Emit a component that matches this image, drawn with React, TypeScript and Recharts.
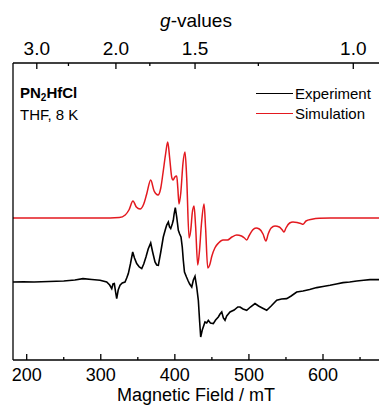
import { Line, LineChart, XAxis, YAxis } from "recharts";

const FONT = "'Liberation Sans', Arial, sans-serif";
const RED = "#e3191f";

// field window of the plot (mT)
const FIELD_MIN = 181.5;
const FIELD_MAX = 675.6;

// experiment, intensity relative to its own baseline
const expField = [
  181.5, 195, 210, 230, 250, 265, 276, 288, 299, 308, 312, 314.8, 316.5, 318.3, 320, 321.5, 323.5, 326, 329, 332.7,
  335, 337.2, 340, 343.1, 345.5, 348.5, 352, 355.3, 358, 361, 364, 367.4, 370, 373.2, 375.5, 377.7, 381, 384.4, 387,
  389, 391.2, 392.8, 394.4, 396.5, 397.9, 399, 400.6, 402.5, 404.7, 406.5, 408.3, 410, 411.4, 413, 415.7, 418, 420,
  422.8, 425, 427.2, 429.5, 431.7, 433.5, 434.9, 437, 440.7, 443, 445.2, 448, 451.9, 455, 458.7, 461, 463.3, 465.5,
  467.7, 470, 474.5, 480, 485, 488, 492, 497, 502, 508.2, 513, 518, 524, 530, 537.5, 544, 551, 557, 564.5, 573, 582,
  591.5, 600, 609.5, 618, 627, 636, 645.5, 655, 663.5, 675.6,
];
const expSignal = [
  0, 0.3, 0, 0.5, 1, 2, 3.4, 2.5, 1.7, 0, -3, -6.6, -2, -1.6, -10, -16.6, -8, -3.3, -1, 0,
  4, 8.4, 18, 30, 24, 18.4, 15, 13.4, 18, 25, 33, 39, 30, 20, 17, 16.7, 30, 45, 52,
  57, 60, 55, 53.4, 58, 61.7, 68, 74.4, 65, 51.7, 48, 45, 35, 21.7, 10, 5, 1, -2,
  -5, 2, 5.7, -5, -18.3, -40, -55, -48, -40, -41, -38.3, -41, -41.6, -38, -35, -32, -30, -36,
  -38.3, -34, -30, -28, -25, -25, -27, -28.3, -25, -21.6, -24, -26, -28.3, -24, -18.3, -17, -16.6, -14, -10, -9, -7.5,
  -5.6, -4.5, -3.3, -2, -0.6, 0, 1, 1.8, 2.4, 2.4,
];

// simulation, intensity relative to its own baseline
const simField = [
  181.5, 300, 325, 333, 338, 343.5, 348, 353, 358, 362, 367.4, 372, 377.2, 381, 384, 387.5, 390.4, 393, 396, 397.6,
  400, 402.5, 404, 405.6, 408, 411, 413.7, 416, 419.2, 421.5, 423.5, 425.9, 428, 430.9, 433, 436, 439.4, 441.5, 444.4,
  447, 450, 454, 459, 465, 471, 477, 483.5, 490, 494, 497, 500, 505, 509.6, 514, 519, 523, 526, 530, 535.2, 541,
  545, 547.4, 550, 555, 559.5, 565, 570, 573, 577, 585, 595, 610, 675.6,
];
const simSignal = [
  0, 0, 0.5, 3, 8, 17, 11, 9, 14, 24, 38, 27, 23, 30, 45, 64, 76, 60, 40, 38,
  41, 42, 30, 14, 25, 55, 66, 40, -20, -12, 5, 12, -8, -47, -35, -5, 14, -10, -50,
  -47, -38, -30, -25, -22, -22, -19, -17, -18, -20, -22, -18, -12, -10, -11, -16, -23, -16, -10, -8, -9,
  -12, -14, -10, -5, -4, -4.5, -5.5, -6.3, -3, -1.3, -0.3, 0, 0,
];

// vertical stacking of the two traces
const EXP_OFFSET = 78;
const SIM_OFFSET = 142;
const Y_MAX = 297;

const fieldTicks = [200, 250, 300, 350, 400, 450, 500, 550, 600, 650];
const fieldLabelled = [200, 300, 400, 500, 600];
const gTicks = [3.0, 2.5, 2.0, 1.75, 1.5, 1.25, 1.0];
const gLabelled = [3.0, 2.0, 1.5, 1.0];
const MW_FREQ = 8.97; // GHz, X-band

const gToField = (g: number) => (71.4477 * MW_FREQ) / g;
const fieldToG = (b: number) => (71.4477 * MW_FREQ) / b;

const expData = expField.map((f, i) => ({ field: f, intensity: expSignal[i] + EXP_OFFSET }));
const simData = simField.map((f, i) => ({ field: f, intensity: simSignal[i] + SIM_OFFSET }));

const legendItems = [
  { name: "Experiment", color: "#000" },
  { name: "Simulation", color: RED },
];

function BottomTick({ x, y, payload }: any) {
  const major = fieldLabelled.includes(payload.value);
  return (
    <g>
      <line x1={x} x2={x} y1={y} y2={y - (major ? 6 : 3)} stroke="#000" strokeWidth={1.3} />
      {major && (
        <text x={x} y={y + 20.5} textAnchor="middle" fontSize={18} fontFamily={FONT} fill="#000">
          {payload.value}
        </text>
      )}
    </g>
  );
}

function TopTick({ x, y, payload }: any) {
  const g = fieldToG(payload.value);
  const major = gLabelled.some((v) => Math.abs(v - g) < 0.01);
  return (
    <g>
      <line x1={x} x2={x} y1={y} y2={y + (major ? 6 : 3)} stroke="#000" strokeWidth={1.3} />
      {major && (
        <text x={x} y={y - 8} textAnchor="middle" fontSize={19} fontFamily={FONT} fill="#000">
          {g.toFixed(1)}
        </text>
      )}
    </g>
  );
}

export default function App() {
  return (
    <div style={{ position: "absolute", left: 0, top: 0, width: 379, height: 405, background: "#fff" }}>
      <LineChart width={379} height={405} margin={{ top: 0, right: 0, bottom: 0, left: 12 }}>
        <XAxis
          xAxisId="bottom"
          dataKey="field"
          type="number"
          domain={[FIELD_MIN, FIELD_MAX]}
          allowDataOverflow
          ticks={fieldTicks}
          interval={0}
          height={45}
          tickSize={0}
          tickMargin={0}
          tickLine={false}
          tick={(p: any) => <BottomTick {...p} />}
          axisLine={{ stroke: "#000", strokeWidth: 1.3 }}
          label={{
            value: "Magnetic Field / mT",
            position: "insideBottom",
            offset: 4,
            fontSize: 18,
            fontFamily: FONT,
            fill: "#000",
          }}
        />
        <XAxis
          xAxisId="top"
          dataKey="field"
          orientation="top"
          type="number"
          domain={[FIELD_MIN, FIELD_MAX]}
          allowDataOverflow
          ticks={gTicks.map(gToField)}
          interval={0}
          height={63}
          tickSize={0}
          tickMargin={0}
          tickLine={false}
          tick={(p: any) => <TopTick {...p} />}
          axisLine={{ stroke: "#000", strokeWidth: 1.3 }}
          label={{
            position: "insideTop",
            content: ({ viewBox }: any) => (
              <text
                x={viewBox.x + viewBox.width / 2}
                y={27}
                textAnchor="middle"
                fontSize={19}
                fontFamily={FONT}
                fill="#000"
              >
                <tspan fontStyle="italic">g</tspan>-values
              </text>
            ),
          }}
        />
        <YAxis
          yAxisId="y"
          type="number"
          domain={[0, Y_MAX]}
          allowDataOverflow
          width={1}
          tick={false}
          tickLine={false}
          axisLine={{ stroke: "#000", strokeWidth: 1.3 }}
        />
        {/* hidden copy so the g-value axis has data bound to it */}
        <Line
          xAxisId="top"
          yAxisId="y"
          data={simData}
          dataKey="intensity"
          stroke="none"
          dot={false}
          activeDot={false}
          legendType="none"
          isAnimationActive={false}
        />
        <Line
          xAxisId="bottom"
          yAxisId="y"
          data={expData}
          dataKey="intensity"
          name="Experiment"
          type="linear"
          stroke="#000"
          strokeWidth={1.6}
          dot={false}
          isAnimationActive={false}
        />
        <Line
          xAxisId="bottom"
          yAxisId="y"
          data={simData}
          dataKey="intensity"
          name="Simulation"
          type="monotone"
          stroke={RED}
          strokeWidth={1.5}
          dot={false}
          isAnimationActive={false}
        />
      </LineChart>
      <div
        style={{
          position: "absolute",
          left: 20,
          top: 83,
          fontFamily: FONT,
          fontSize: 15,
          lineHeight: "20px",
          color: "#000",
        }}
      >
        <div style={{ fontWeight: "bold" }}>
          PN<span style={{ fontSize: 10, position: "relative", top: 3 }}>2</span>HfCl
        </div>
        <div>THF, 8 K</div>
      </div>
      <div style={{ position: "absolute", left: 256, top: 83, fontFamily: FONT, fontSize: 15, color: "#000" }}>
        {legendItems.map((it) => (
          <div key={it.name} style={{ display: "flex", alignItems: "center", height: 20 }}>
            <span style={{ display: "inline-block", width: 37, borderTop: `1.5px solid ${it.color}`, marginRight: 2 }} />
            {it.name}
          </div>
        ))}
      </div>
    </div>
  );
}
